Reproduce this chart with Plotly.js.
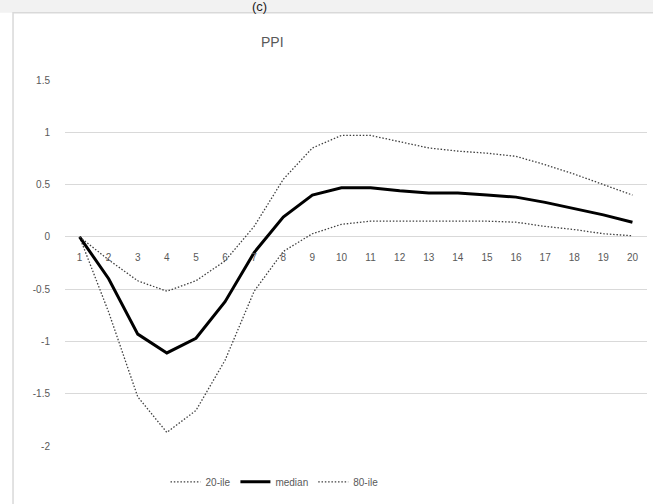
<!DOCTYPE html>
<html>
<head>
<meta charset="utf-8">
<script src="https://cdn.plot.ly/plotly-3.0.1.min.js"></script>
<style>html,body{margin:0;padding:0;background:#fff;}#chart{width:653px;height:504px;}</style>
</head>
<body>
<div id="chart"></div>
<script>
const periods = [1,2,3,4,5,6,7,8,9,10,11,12,13,14,15,16,17,18,19,20];
const tickLabels = periods.map(String);
const lowerBand = [0, -0.72, -1.53, -1.87, -1.66, -1.18, -0.52, -0.14, 0.03, 0.12, 0.15, 0.15, 0.15, 0.15, 0.15, 0.14, 0.10, 0.07, 0.03, 0.01];
const medianVals = [0, -0.40, -0.93, -1.11, -0.97, -0.62, -0.15, 0.19, 0.40, 0.47, 0.47, 0.44, 0.42, 0.42, 0.40, 0.38, 0.33, 0.27, 0.21, 0.14];
const upperBand = [0, -0.22, -0.42, -0.52, -0.42, -0.23, 0.10, 0.55, 0.85, 0.97, 0.97, 0.91, 0.85, 0.82, 0.80, 0.77, 0.69, 0.60, 0.50, 0.40];
const seriesNames = ["20-ile", "median", "80-ile"];
const chartTitle = "PPI";
const panelLabel = "(c)";

const gray = "#595959";
const traces = [
  {x: periods, y: lowerBand, name: seriesNames[0], mode: "lines",
   line: {color: "#404040", width: 1.3, dash: "1.5px,1.8px"}},
  {x: periods, y: medianVals, name: seriesNames[1], mode: "lines",
   line: {color: "#000000", width: 3}},
  {x: periods, y: upperBand, name: seriesNames[2], mode: "lines",
   line: {color: "#404040", width: 1.3, dash: "1.5px,1.8px"}}
];

const layout = {
  width: 653, height: 504,
  margin: {l: 65, r: 6, t: 80, b: 58},
  paper_bgcolor: "#ffffff", plot_bgcolor: "#ffffff",
  font: {family: "Liberation Sans, Arial, sans-serif", size: 10, color: gray},
  showlegend: true,
  legend: {orientation: "h", x: 0.36, xanchor: "center", y: -0.098, yanchor: "middle",
           font: {size: 10, color: gray}, itemwidth: 30, bgcolor: "rgba(0,0,0,0)"},
  xaxis: {range: [0.5, 20.5], tickvals: periods, ticktext: tickLabels,
          anchor: "free", position: 2/3.5, showgrid: false, zeroline: false,
          showline: false, ticks: "", ticklabelstandoff: 13,
          tickfont: {size: 10, color: gray}, fixedrange: true},
  yaxis: {range: [-2, 1.5], tickvals: [-2,-1.5,-1,-0.5,0,0.5,1,1.5],
          ticktext: ["-2","-1.5","-1","-0.5","0","0.5","1","1.5"],
          showgrid: true, gridcolor: "#d9d9d9", gridwidth: 1, zeroline: false,
          showline: false, ticks: "", ticklabelstandoff: 14,
          tickfont: {size: 10, color: gray}, fixedrange: true},
  annotations: [
    {text: chartTitle, xref: "paper", yref: "paper", x: 0.357, y: 1.104,
     xanchor: "center", yanchor: "middle", showarrow: false,
     font: {size: 14, color: gray}},
    {text: panelLabel, xref: "paper", yref: "paper", x: 0.335, y: 1.2,
     xanchor: "center", yanchor: "middle", showarrow: false,
     font: {size: 13, color: "#222222"}}
  ],
  shapes: [
    {type: "rect", xref: "paper", yref: "paper", x0: -0.2, x1: 1.1, y0: 1.184, y1: 1.3,
     fillcolor: "#f2f2f2", line: {width: 0}, layer: "below"},
    {type: "rect", xref: "paper", yref: "paper", x0: -0.0893, x1: 1.05, y0: -0.2, y1: 1.184,
     fillcolor: "rgba(0,0,0,0)", line: {color: "#d9d9d9", width: 1.5}, layer: "below"}
  ]
};

Plotly.newPlot("chart", traces, layout, {displayModeBar: false, staticPlot: true});
</script>
</body>
</html>
